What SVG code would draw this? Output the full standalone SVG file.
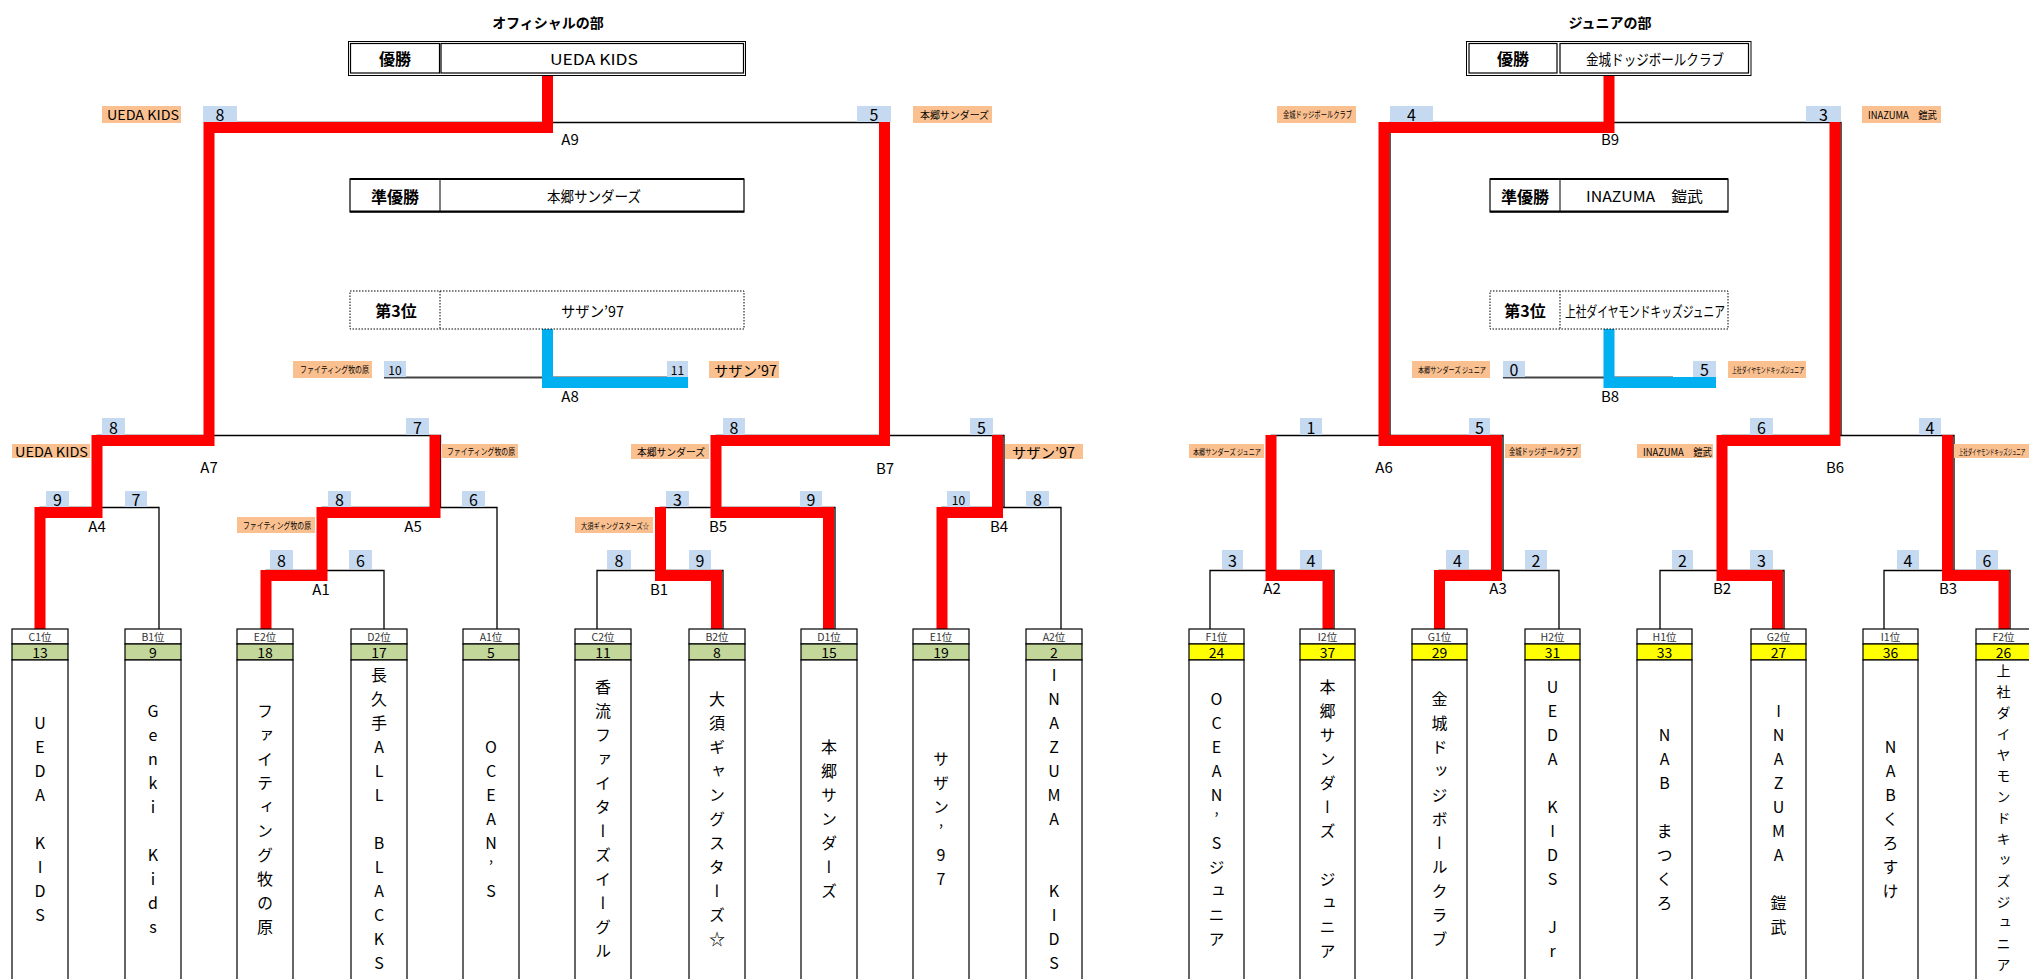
<svg xmlns="http://www.w3.org/2000/svg" width="2029" height="979" viewBox="0 0 2029 979">
<style>
text { font-family: "Noto Sans CJK JP", "Noto Sans", sans-serif; fill:#000; }
.title { font-size:14px; font-weight:bold; text-anchor:middle; dominant-baseline:central; }
.lbl { font-size:16px; font-weight:bold; text-anchor:middle; dominant-baseline:central; }
.val { font-size:15px; text-anchor:middle; dominant-baseline:central; }
.box { fill:#fff; stroke:#000; stroke-width:1.2; }
.dot { fill:#fff; stroke:#000; stroke-width:1; stroke-dasharray:1.5 1.5; }
.sc { fill:#C5D9F1; }
.sct { font-size:16px; text-anchor:middle; dominant-baseline:central; }
.scs { font-size:12px; text-anchor:middle; dominant-baseline:central; }
.tag { fill:#FAC090; }
.tagt { text-anchor:middle; dominant-baseline:central; }
.mid { font-size:15px; text-anchor:middle; dominant-baseline:central; }
.ln { fill:none; stroke:#000; stroke-width:1.3; }
.ln3 { fill:none; stroke:#444; stroke-width:2; }
.win { fill:none; stroke:#FF0000; stroke-width:11; stroke-linejoin:miter; stroke-linecap:butt; }
.bronze { fill:none; stroke:#00B0F0; stroke-width:11; stroke-linejoin:miter; stroke-linecap:butt; }
.tb { fill:#fff; stroke:#000; stroke-width:1.2; }
.g { fill:#C4D79B; stroke:#000; stroke-width:1.2; }
.y { fill:#FFFF00; stroke:#000; stroke-width:1.2; }
.pos { font-size:10.5px; fill:#333; text-anchor:middle; dominant-baseline:central; }
.num { font-size:14px; text-anchor:middle; dominant-baseline:central; }
.name { font-size:16px; writing-mode:vertical-rl; text-orientation:upright; letter-spacing:8px; }
.name2 { font-size:14px; writing-mode:vertical-rl; text-orientation:upright; letter-spacing:7px; }
</style>

<!-- titles -->
<text class="title" x="548" y="22">オフィシャルの部</text>
<text class="title" x="1610" y="22">ジュニアの部</text>

<!-- connectors -->
<g id="connectors">
  <!-- official brackets -->
  <path class="ln" d="M209,435 V122.5 H885 V435"/>
  <path class="ln" d="M97,507 V435.5 H440.5 V507"/>
  <path class="ln" d="M40,629 V507.5 H159 V629"/>
  <path class="ln" d="M322,570 V507.5 H497 V629"/>
  <path class="ln" d="M266,629 V570.5 H384 V629"/>
  <path class="ln" d="M716,507 V435.5 H1004 V507"/>
  <path class="ln" d="M660,570 V507.5 H835 V629"/>
  <path class="ln" d="M597,629 V570.5 H723 V629"/>
  <path class="ln" d="M942,629 V507.5 H1061 V629"/>
  <path class="ln3" d="M384,377.5 H667"/>
  <!-- junior brackets -->
  <path class="ln" d="M1390,435 V122.5 H1841 V435"/>
  <path class="ln" d="M1271,570 V435.5 H1503 V570"/>
  <path class="ln" d="M1210,629 V570.5 H1334 V629"/>
  <path class="ln" d="M1439,629 V570.5 H1559 V629"/>
  <path class="ln" d="M1722,570 V435.5 H1954 V570"/>
  <path class="ln" d="M1660,629 V570.5 H1784 V629"/>
  <path class="ln" d="M1884,629 V570.5 H2010 V629"/>
  <path class="ln3" d="M1503,377.5 H1673"/>
  <!-- official winning paths -->
  <path class="win" d="M40,629 V512.5 H97 V440.5 H209 V127.5 H547.5 V76"/>
  <path class="win" d="M266,629 V575.5 H322 V512.5 H435 V435"/>
  <path class="win" d="M828.5,629 V512.5 H716 V440.5 H884.5 V122"/>
  <path class="win" d="M716.5,629 V575.5 H660.5 V507"/>
  <path class="win" d="M942,629 V512.5 H997.5 V435"/>
  <path class="bronze" d="M547.5,329 V382.5 H688"/>
  <!-- junior winning paths -->
  <path class="win" d="M1439.5,629 V575.5 H1496.5 V440.5 H1384 V127.5 H1609 V76"/>
  <path class="win" d="M1328,629 V575.5 H1271 V435"/>
  <path class="win" d="M1777.5,629 V575.5 H1722 V440.5 H1835 V122"/>
  <path class="win" d="M2004,629 V575.5 H1947.5 V435"/>
  <path class="bronze" d="M1609,329 V382.5 H1716"/>
</g>

<!-- result boxes official -->
<g id="official-champion">
  <rect x="348.5" y="41.5" width="397" height="34" fill="#fff" stroke="#000" stroke-width="1"/>
  <rect x="350.5" y="43.5" width="89" height="29.5" fill="none" stroke="#000" stroke-width="1.2"/>
  <rect x="441" y="43.5" width="302.5" height="29.5" fill="none" stroke="#000" stroke-width="1.2"/>
  <text class="lbl" x="395" y="58">優勝</text>
  <text class="val" x="594" y="58" textLength="88" lengthAdjust="spacingAndGlyphs">UEDA KIDS</text>
</g>
<g id="official-runnerup">
  <rect class="box" x="350" y="179" width="394" height="33"/>
  <path d="M350,179 H744 M350,211.5 H744" stroke="#000" stroke-width="2"/>
  <path d="M440,179 V212" stroke="#000" stroke-width="1"/>
  <text class="lbl" x="395" y="195.5">準優勝</text>
  <text class="val" x="594" y="195.5" textLength="94" lengthAdjust="spacingAndGlyphs">本郷サンダーズ</text>
</g>
<g id="official-third">
  <rect class="dot" x="350" y="291" width="394" height="38"/>
  <path class="dot" d="M440,291 V329"/>
  <text class="lbl" x="396" y="310">第3位</text>
  <text class="val" x="592.5" y="310" textLength="63" lengthAdjust="spacingAndGlyphs">サザン’97</text>
</g>

<!-- result boxes junior -->
<g id="junior-champion">
  <rect x="1466.5" y="41.5" width="284.5" height="34" fill="#fff" stroke="#000" stroke-width="1"/>
  <rect x="1469" y="43.5" width="88" height="29.5" fill="none" stroke="#000" stroke-width="1.2"/>
  <rect x="1560" y="43.5" width="188.5" height="29.5" fill="none" stroke="#000" stroke-width="1.2"/>
  <text class="lbl" x="1513" y="58">優勝</text>
  <text class="val" x="1655" y="58" textLength="138" lengthAdjust="spacingAndGlyphs">金城ドッジボールクラブ</text>
</g>
<g id="junior-runnerup">
  <rect class="box" x="1490" y="179" width="238" height="33"/>
  <path d="M1490,179 H1728 M1490,211.5 H1728" stroke="#000" stroke-width="2"/>
  <path d="M1560,179 V212" stroke="#000" stroke-width="1"/>
  <text class="lbl" x="1525" y="195.5">準優勝</text>
  <text class="val" x="1644.5" y="195.5" textLength="117" lengthAdjust="spacingAndGlyphs">INAZUMA　鎧武</text>
</g>
<g id="junior-third">
  <rect class="dot" x="1490" y="291" width="238" height="38"/>
  <path class="dot" d="M1560,291 V329"/>
  <text class="lbl" x="1525" y="310">第3位</text>
  <text class="val" x="1645" y="310" textLength="160" lengthAdjust="spacingAndGlyphs">上社ダイヤモンドキッズジュニア</text>
</g>

<!-- official matches -->
<g id="match-A9">
  <rect class="sc" x="203" y="106" width="34" height="16"/><text class="sct" x="220" y="114">8</text>
  <rect class="sc" x="857" y="106" width="34" height="16"/><text class="sct" x="874" y="114">5</text>
  <rect class="tag" x="102" y="106" width="79" height="17"/><text class="tagt" x="143" y="114.5" font-size="13" textLength="72" lengthAdjust="spacingAndGlyphs">UEDA KIDS</text>
  <rect class="tag" x="913" y="106" width="79" height="17"/><text class="tagt" x="954.5" y="114.5" font-size="10" textLength="69" lengthAdjust="spacingAndGlyphs">本郷サンダーズ</text>
  <text class="mid" x="570" y="138.5">A9</text>
</g>
<g id="match-A8">
  <rect class="sc" x="384" y="361" width="22" height="16"/><text class="scs" x="395" y="369">10</text>
  <rect class="sc" x="667" y="361" width="21" height="16"/><text class="scs" x="677.5" y="369">11</text>
  <rect class="tag" x="293" y="361" width="79" height="17"/><text class="tagt" x="334.5" y="369.5" font-size="9" textLength="69" lengthAdjust="spacingAndGlyphs">ファイティング牧の原</text>
  <rect class="tag" x="709" y="361" width="70" height="17"/><text class="tagt" x="745.5" y="369.5" font-size="14" textLength="63" lengthAdjust="spacingAndGlyphs">サザン’97</text>
  <text class="mid" x="570" y="395">A8</text>
</g>
<g id="match-A7">
  <rect class="sc" x="102" y="418" width="23" height="17"/><text class="sct" x="113.5" y="426.5">8</text>
  <rect class="sc" x="406" y="418" width="23" height="17"/><text class="sct" x="417.5" y="426.5">7</text>
  <rect class="tag" x="12" y="444" width="78" height="14"/><text class="tagt" x="51.5" y="451" font-size="13" textLength="73" lengthAdjust="spacingAndGlyphs">UEDA KIDS</text>
  <rect class="tag" x="442" y="444" width="76" height="14"/><text class="tagt" x="481" y="451" font-size="9" textLength="68" lengthAdjust="spacingAndGlyphs">ファイティング牧の原</text>
  <text class="mid" x="209" y="466">A7</text>
</g>
<g id="match-A4">
  <rect class="sc" x="46" y="491" width="23" height="16"/><text class="sct" x="57.5" y="499">9</text>
  <rect class="sc" x="125" y="491" width="22" height="16"/><text class="sct" x="136" y="499">7</text>
  <text class="mid" x="97" y="525">A4</text>
</g>
<g id="match-A5">
  <rect class="sc" x="328" y="491" width="23" height="16"/><text class="sct" x="339.5" y="499">8</text>
  <rect class="sc" x="462" y="491" width="23" height="16"/><text class="sct" x="473.5" y="499">6</text>
  <rect class="tag" x="237" y="517" width="78" height="16"/><text class="tagt" x="277" y="525" font-size="9" textLength="68" lengthAdjust="spacingAndGlyphs">ファイティング牧の原</text>
  <text class="mid" x="413" y="525">A5</text>
</g>
<g id="match-A1">
  <rect class="sc" x="270" y="550" width="23" height="19"/><text class="sct" x="281.5" y="559.5">8</text>
  <rect class="sc" x="349" y="550" width="23" height="19"/><text class="sct" x="360.5" y="559.5">6</text>
  <text class="mid" x="321" y="588">A1</text>
</g>
<g id="match-B7">
  <rect class="sc" x="723" y="418" width="22" height="17"/><text class="sct" x="734" y="426.5">8</text>
  <rect class="sc" x="970" y="418" width="23" height="17"/><text class="sct" x="981.5" y="426.5">5</text>
  <rect class="tag" x="631" y="444" width="78" height="15"/><text class="tagt" x="671" y="451.5" font-size="10" textLength="68" lengthAdjust="spacingAndGlyphs">本郷サンダーズ</text>
  <rect class="tag" x="1005" y="444" width="78" height="15"/><text class="tagt" x="1043.5" y="451.5" font-size="14" textLength="63" lengthAdjust="spacingAndGlyphs">サザン’97</text>
  <text class="mid" x="885" y="467">B7</text>
</g>
<g id="match-B5">
  <rect class="sc" x="666" y="491" width="23" height="16"/><text class="sct" x="677.5" y="499">3</text>
  <rect class="sc" x="800" y="491" width="22" height="16"/><text class="sct" x="811" y="499">9</text>
  <rect class="tag" x="575" y="517" width="78" height="16"/><text class="tagt" x="615" y="525" font-size="8" textLength="68" lengthAdjust="spacingAndGlyphs">大須ギャングスターズ☆</text>
  <text class="mid" x="718" y="525">B5</text>
</g>
<g id="match-B4">
  <rect class="sc" x="947" y="491" width="23" height="16"/><text class="scs" x="958.5" y="499">10</text>
  <rect class="sc" x="1026" y="491" width="23" height="16"/><text class="sct" x="1037.5" y="499">8</text>
  <text class="mid" x="999" y="525">B4</text>
</g>
<g id="match-B1">
  <rect class="sc" x="607" y="550" width="24" height="19"/><text class="sct" x="619" y="559.5">8</text>
  <rect class="sc" x="689" y="550" width="22" height="19"/><text class="sct" x="700" y="559.5">9</text>
  <text class="mid" x="659" y="588">B1</text>
</g>

<!-- junior matches -->
<g id="match-B9">
  <rect class="sc" x="1390" y="106" width="43" height="16"/><text class="sct" x="1411.5" y="114">4</text>
  <rect class="sc" x="1806" y="106" width="35" height="16"/><text class="sct" x="1823.5" y="114">3</text>
  <rect class="tag" x="1277" y="106" width="79" height="17"/><text class="tagt" x="1317.5" y="114.5" font-size="9" textLength="69" lengthAdjust="spacingAndGlyphs">金城ドッジボールクラブ</text>
  <rect class="tag" x="1862" y="106" width="79" height="17"/><text class="tagt" x="1902.5" y="114.5" font-size="10" textLength="69" lengthAdjust="spacingAndGlyphs">INAZUMA　鎧武</text>
  <text class="mid" x="1610" y="138.5">B9</text>
</g>
<g id="match-B8">
  <rect class="sc" x="1503" y="361" width="22" height="16"/><text class="sct" x="1514" y="369">0</text>
  <rect class="sc" x="1693" y="361" width="23" height="16"/><text class="sct" x="1704.5" y="369">5</text>
  <rect class="tag" x="1412" y="361" width="78" height="17"/><text class="tagt" x="1452" y="369.5" font-size="8" textLength="68" lengthAdjust="spacingAndGlyphs">本郷サンダーズ ジュニア</text>
  <rect class="tag" x="1728" y="361" width="78" height="17"/><text class="tagt" x="1768" y="369.5" font-size="8" textLength="72" lengthAdjust="spacingAndGlyphs">上社ダイヤモンドキッズジュニア</text>
  <text class="mid" x="1610" y="395">B8</text>
</g>
<g id="match-A6">
  <rect class="sc" x="1300" y="418" width="22" height="17"/><text class="sct" x="1311" y="426.5">1</text>
  <rect class="sc" x="1469" y="418" width="21" height="17"/><text class="sct" x="1479.5" y="426.5">5</text>
  <rect class="tag" x="1189" y="444" width="75" height="14"/><text class="tagt" x="1227" y="451" font-size="8" textLength="68" lengthAdjust="spacingAndGlyphs">本郷サンダーズ ジュニア</text>
  <rect class="tag" x="1505" y="444" width="76" height="14"/><text class="tagt" x="1543.5" y="451" font-size="9" textLength="69" lengthAdjust="spacingAndGlyphs">金城ドッジボールクラブ</text>
  <text class="mid" x="1384" y="466">A6</text>
</g>
<g id="match-A2">
  <rect class="sc" x="1222" y="550" width="21" height="19"/><text class="sct" x="1232.5" y="559.5">3</text>
  <rect class="sc" x="1300" y="550" width="22" height="19"/><text class="sct" x="1311" y="559.5">4</text>
  <text class="mid" x="1272" y="587">A2</text>
</g>
<g id="match-A3">
  <rect class="sc" x="1446" y="550" width="23" height="19"/><text class="sct" x="1457.5" y="559.5">4</text>
  <rect class="sc" x="1525" y="550" width="22" height="19"/><text class="sct" x="1536" y="559.5">2</text>
  <text class="mid" x="1498" y="587">A3</text>
</g>
<g id="match-B6">
  <rect class="sc" x="1750" y="418" width="23" height="17"/><text class="sct" x="1761.5" y="426.5">6</text>
  <rect class="sc" x="1919" y="418" width="22" height="17"/><text class="sct" x="1930" y="426.5">4</text>
  <rect class="tag" x="1637" y="444" width="76" height="14"/><text class="tagt" x="1677.5" y="451" font-size="10" textLength="69" lengthAdjust="spacingAndGlyphs">INAZUMA　鎧武</text>
  <rect class="tag" x="1954" y="444" width="80" height="14"/><text class="tagt" transform="translate(1992,451) scale(0.56,1)" x="0" y="0" font-size="8">上社ダイヤモンドキッズジュニア</text>
  <text class="mid" x="1835" y="466">B6</text>
</g>
<g id="match-B2">
  <rect class="sc" x="1672" y="550" width="21" height="19"/><text class="sct" x="1682.5" y="559.5">2</text>
  <rect class="sc" x="1750" y="550" width="23" height="19"/><text class="sct" x="1761.5" y="559.5">3</text>
  <text class="mid" x="1722" y="587">B2</text>
</g>
<g id="match-B3">
  <rect class="sc" x="1897" y="550" width="22" height="19"/><text class="sct" x="1908" y="559.5">4</text>
  <rect class="sc" x="1976" y="550" width="22" height="19"/><text class="sct" x="1987" y="559.5">6</text>
  <text class="mid" x="1948" y="587">B3</text>
</g>

<!-- official teams -->
<g id="team-C1"><rect class="tb" x="12" y="629" width="56" height="15"/><rect class="g" x="12" y="644" width="56" height="16"/><rect class="tb" x="12" y="660" width="56" height="330"/><text class="pos" x="40" y="636.5">C1位</text><text class="num" x="40" y="652">13</text><text class="name" x="40" y="715">UEDA　KIDS</text></g>
<g id="team-B1"><rect class="tb" x="125" y="629" width="56" height="15"/><rect class="g" x="125" y="644" width="56" height="16"/><rect class="tb" x="125" y="660" width="56" height="330"/><text class="pos" x="153" y="636.5">B1位</text><text class="num" x="153" y="652">9</text><text class="name" x="153" y="703">Genki　Kids</text></g>
<g id="team-E2"><rect class="tb" x="237" y="629" width="56" height="15"/><rect class="g" x="237" y="644" width="56" height="16"/><rect class="tb" x="237" y="660" width="56" height="330"/><text class="pos" x="265" y="636.5">E2位</text><text class="num" x="265" y="652">18</text><text class="name" x="265" y="703">ファイティング牧の原</text></g>
<g id="team-D2"><rect class="tb" x="351" y="629" width="56" height="15"/><rect class="g" x="351" y="644" width="56" height="16"/><rect class="tb" x="351" y="660" width="56" height="330"/><text class="pos" x="379" y="636.5">D2位</text><text class="num" x="379" y="652">17</text><text class="name" x="379" y="667">長久手ALL　BLACKS</text></g>
<g id="team-A1"><rect class="tb" x="463" y="629" width="56" height="15"/><rect class="g" x="463" y="644" width="56" height="16"/><rect class="tb" x="463" y="660" width="56" height="330"/><text class="pos" x="491" y="636.5">A1位</text><text class="num" x="491" y="652">5</text><text class="name" x="491" y="739">OCEAN’S</text></g>
<g id="team-C2"><rect class="tb" x="575" y="629" width="56" height="15"/><rect class="g" x="575" y="644" width="56" height="16"/><rect class="tb" x="575" y="660" width="56" height="330"/><text class="pos" x="603" y="636.5">C2位</text><text class="num" x="603" y="652">11</text><text class="name" x="603" y="679">香流ファイターズイーグル</text></g>
<g id="team-B2"><rect class="tb" x="689" y="629" width="56" height="15"/><rect class="g" x="689" y="644" width="56" height="16"/><rect class="tb" x="689" y="660" width="56" height="330"/><text class="pos" x="717" y="636.5">B2位</text><text class="num" x="717" y="652">8</text><text class="name" x="717" y="691">大須ギャングスターズ☆</text></g>
<g id="team-D1"><rect class="tb" x="801" y="629" width="56" height="15"/><rect class="g" x="801" y="644" width="56" height="16"/><rect class="tb" x="801" y="660" width="56" height="330"/><text class="pos" x="829" y="636.5">D1位</text><text class="num" x="829" y="652">15</text><text class="name" x="829" y="739">本郷サンダーズ</text></g>
<g id="team-E1"><rect class="tb" x="913" y="629" width="56" height="15"/><rect class="g" x="913" y="644" width="56" height="16"/><rect class="tb" x="913" y="660" width="56" height="330"/><text class="pos" x="941" y="636.5">E1位</text><text class="num" x="941" y="652">19</text><text class="name" x="941" y="751">サザン’97</text></g>
<g id="team-A2"><rect class="tb" x="1026" y="629" width="56" height="15"/><rect class="g" x="1026" y="644" width="56" height="16"/><rect class="tb" x="1026" y="660" width="56" height="330"/><text class="pos" x="1054" y="636.5">A2位</text><text class="num" x="1054" y="652">2</text><text class="name" x="1054" y="667">INAZUMA　　KIDS</text></g>

<!-- junior teams -->
<g id="team-F1"><rect class="tb" x="1189" y="629" width="55" height="15"/><rect class="y" x="1189" y="644" width="55" height="16"/><rect class="tb" x="1189" y="660" width="55" height="330"/><text class="pos" x="1216.5" y="636.5">F1位</text><text class="num" x="1216.5" y="652">24</text><text class="name" x="1216.5" y="691">OCEAN’Sジュニア</text></g>
<g id="team-I2"><rect class="tb" x="1300" y="629" width="55" height="15"/><rect class="y" x="1300" y="644" width="55" height="16"/><rect class="tb" x="1300" y="660" width="55" height="330"/><text class="pos" x="1327.5" y="636.5">I2位</text><text class="num" x="1327.5" y="652">37</text><text class="name" x="1327.5" y="679">本郷サンダーズ　ジュニア</text></g>
<g id="team-G1"><rect class="tb" x="1412" y="629" width="55" height="15"/><rect class="y" x="1412" y="644" width="55" height="16"/><rect class="tb" x="1412" y="660" width="55" height="330"/><text class="pos" x="1439.5" y="636.5">G1位</text><text class="num" x="1439.5" y="652">29</text><text class="name" x="1439.5" y="691">金城ドッジボールクラブ</text></g>
<g id="team-H2"><rect class="tb" x="1525" y="629" width="55" height="15"/><rect class="y" x="1525" y="644" width="55" height="16"/><rect class="tb" x="1525" y="660" width="55" height="330"/><text class="pos" x="1552.5" y="636.5">H2位</text><text class="num" x="1552.5" y="652">31</text><text class="name" x="1552.5" y="679">UEDA　KIDS　Jr</text></g>
<g id="team-H1"><rect class="tb" x="1637" y="629" width="55" height="15"/><rect class="y" x="1637" y="644" width="55" height="16"/><rect class="tb" x="1637" y="660" width="55" height="330"/><text class="pos" x="1664.5" y="636.5">H1位</text><text class="num" x="1664.5" y="652">33</text><text class="name" x="1664.5" y="727">NAB　まつくろ</text></g>
<g id="team-G2"><rect class="tb" x="1751" y="629" width="55" height="15"/><rect class="y" x="1751" y="644" width="55" height="16"/><rect class="tb" x="1751" y="660" width="55" height="330"/><text class="pos" x="1778.5" y="636.5">G2位</text><text class="num" x="1778.5" y="652">27</text><text class="name" x="1778.5" y="703">INAZUMA　鎧武</text></g>
<g id="team-I1"><rect class="tb" x="1863" y="629" width="55" height="15"/><rect class="y" x="1863" y="644" width="55" height="16"/><rect class="tb" x="1863" y="660" width="55" height="330"/><text class="pos" x="1890.5" y="636.5">I1位</text><text class="num" x="1890.5" y="652">36</text><text class="name" x="1890.5" y="739">NABくろすけ</text></g>
<g id="team-F2"><rect class="tb" x="1976" y="629" width="55" height="15"/><rect class="y" x="1976" y="644" width="55" height="16"/><rect class="tb" x="1976" y="660" width="55" height="330"/><text class="pos" x="2003.5" y="636.5">F2位</text><text class="num" x="2003.5" y="652">26</text><text class="name2" x="2003.5" y="664">上社ダイヤモンドキッズジュニア</text></g>
</svg>
